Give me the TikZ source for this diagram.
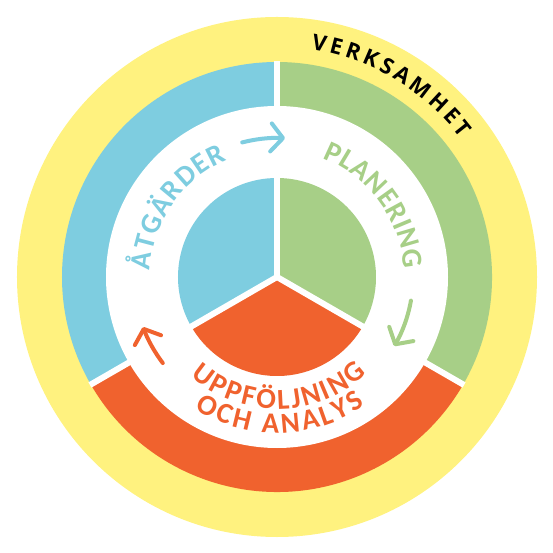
\documentclass[tikz,border=0pt]{standalone}
\usepackage{fontspec}
\usetikzlibrary{arrows.meta,decorations.text}
\newfontfamily\verkfont{Open Sans}
\newfontfamily\ringfont{Carlito}
\definecolor{ringyellow}{HTML}{FFF27F}
\definecolor{ringblue}{HTML}{7ECDE0}
\definecolor{ringgreen}{HTML}{A7CF87}
\definecolor{ringorange}{HTML}{F0622E}
\begin{document}
\begin{tikzpicture}[x=1pt, y=1pt,
		gap/.style={draw=white, line width=6},
		cyclearrow/.style={draw=#1, line width=4, line cap=round, -{Straight Barb[length=12pt, width=28pt, round]}},
		ringtext/.style={decorate, decoration={text along path, text align={fit to path}, #1}}]
	\useasboundingbox (-277, -276) rectangle (276, 277);
	\coordinate (c) at (0, 0);
	\path[fill=ringyellow] (c) circle[radius=260];
	\path[fill=ringblue] (c) -- (90:215) arc[start angle=90, end angle=210, radius=215] -- cycle;
	\path[fill=ringorange] (c) -- (210:215) arc[start angle=210, end angle=330, radius=215] -- cycle;
	\path[fill=ringgreen] (c) -- (-30:215) arc[start angle=-30, end angle=90, radius=215] -- cycle;
	\path[fill=white] (c) circle[radius=171];
	\path[fill=ringblue] (c) -- (90:99) arc[start angle=90, end angle=210, radius=99] -- cycle;
	\path[fill=ringorange] (c) -- (210:99) arc[start angle=210, end angle=330, radius=99] -- cycle;
	\path[fill=ringgreen] (c) -- (-30:99) arc[start angle=-30, end angle=90, radius=99] -- cycle;
	\path[gap] (c) -- (90:216);
	\path[gap] (c) -- (210:216);
	\path[gap] (c) -- (330:216);
	\path[ringtext={text={|\verkfont\bfseries\fontsize{22}{26}\selectfont|VERKSAMHET}, text color=black}] (81.5:230) arc[start angle=81.5, end angle=37, radius=230];
	\path[ringtext={text={|\ringfont\bfseries\fontsize{29}{33}\selectfont|ÅTGÄRDER}, text color=ringblue}] (177:127) arc[start angle=177, end angle=113, radius=127];
	\path[ringtext={text={|\ringfont\bfseries\fontsize{29}{33}\selectfont|PLANERING}, text color=ringgreen}] (69:127) arc[start angle=69, end angle=3.5, radius=127];
	\path[ringtext={text={|\ringfont\bfseries\fontsize{29}{33}\selectfont|UPPFÖLJNING}, text color=ringorange}] (229:132) arc[start angle=229, end angle=313, radius=132];
	\path[ringtext={text={|\ringfont\bfseries\fontsize{29}{33}\selectfont|OCH ANALYS}, text color=ringorange}] (238:156) arc[start angle=238, end angle=304.5, radius=156];
	\path[cyclearrow=ringblue] (104.5:139) arc[start angle=104.5, end angle=86.7, radius=139];
	\path[cyclearrow=ringgreen] (-10:136) arc[start angle=-10, end angle=-30.5, radius=136];
	\path[cyclearrow=ringorange] (217:143) arc[start angle=217, end angle=200.5, radius=143];
\end{tikzpicture}
\end{document}
